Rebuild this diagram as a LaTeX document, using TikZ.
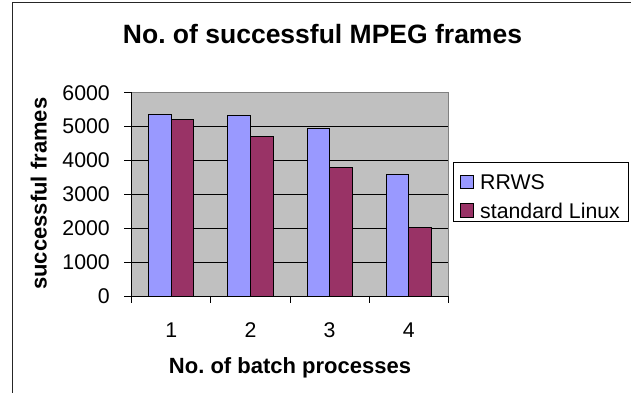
\documentclass[tikz,border=0pt]{standalone}
\usepackage{fontspec}
\setmainfont{Liberation Sans}
\frenchspacing
\definecolor{rrws}{HTML}{9999FF}
\definecolor{linux}{HTML}{993366}
\definecolor{plotbg}{HTML}{C0C0C0}
\begin{document}
\begin{tikzpicture}[x=1pt, y=1pt,
    bar/.style={draw=black, line width=0.8pt},
    swatch/.style={draw=black, line width=0.7pt, minimum size=13.5pt, inner sep=0},
    ticklabel/.style={inner sep=0, font=\fontsize{21.3}{24}\selectfont},
    axistitle/.style={inner sep=0, font=\fontsize{22}{26}\selectfont\bfseries}]
    \useasboundingbox (0,0) rectangle (631,393);

    % Outer frame, cut off at right and bottom
    \draw[line width=1.3pt, black!85] (12.3,0) -- (12.3,390.3) -- (631,390.3);

    \node[inner sep=0, anchor=base, font=\fontsize{26.5}{30}\selectfont\bfseries] (title)
        at (322.5,349) {No. of successful MPEG frames};

    \begin{scope}[shift={(131.7,97)}, x=79.15pt, y=33.88pt]
        % Plot area and grid
        \fill[plotbg] (0,0) rectangle (4,6);
        \draw[gray, line width=0.8pt] (0,6) -- (4,6) -- (4,0);
        \foreach \k in {1,...,5}
            \draw[line width=0.8pt] (0,\k) -- (4,\k);

        % Bars
        \foreach \i/\a/\b in {0/5.36/5.21, 1/5.33/4.70, 2/4.95/3.80, 3/3.59/2.03} {
            \draw[bar, fill=rrws] (\i+0.2143,0) rectangle (\i+0.5,\a);
            \draw[bar, fill=linux] (\i+0.5,0) rectangle (\i+0.7857,\b);
            \pgfmathtruncatemacro\n{\i+1}
            \node[ticklabel, yshift=-34pt] (xlab\n) at (\i+0.5,0) {\n};
        }

        % Axes
        \draw[line width=0.9pt] (0,6) -- (0,0) -- (4,0);
        \foreach \i in {0,...,4}
            \draw[line width=0.9pt] (\i,0) -- ++(0pt,-7pt);
        \foreach \k in {0,...,6} {
            \draw[line width=0.9pt] (0,\k) -- ++(-7.7pt,0pt);
            \pgfmathtruncatemacro\v{\k*1000}
            \node[ticklabel, anchor=east, xshift=-21.7pt] (ylab\k) at (0,\k) {\v};
        }
    \end{scope}

    \node[axistitle, anchor=base] (xtitle) at (290,19) {No. of batch processes};
    \node[axistitle, anchor=base, rotate=90] (ytitle) at (46.7,199.3) {successful frames};

    % Legend
    \node[draw=black, line width=0.8pt, fill=white, minimum width=174.5pt, minimum height=59.5pt,
        inner sep=0, anchor=south west] (legend) at (453.3,170.8) {};
    \node[swatch, fill=rrws] (keyrrws) at (467,211) {};
    \node[ticklabel, anchor=west] (txtrrws) at (480,211) {RRWS};
    \node[swatch, fill=linux] (keylinux) at (467,182.5) {};
    \node[ticklabel, anchor=west] (txtlinux) at (480,182.5) {standard Linux};
\end{tikzpicture}
\end{document}
